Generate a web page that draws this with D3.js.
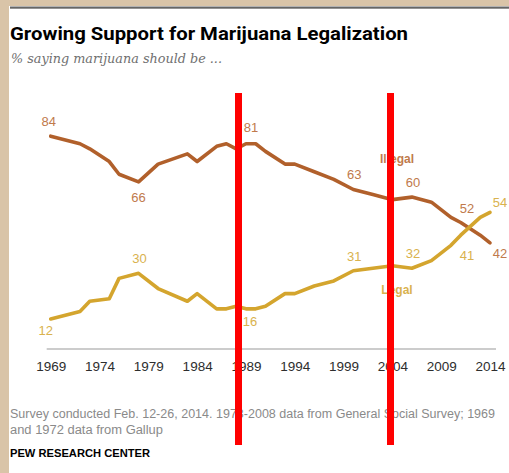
<!DOCTYPE html>
<html>
<head>
<meta charset="utf-8">
<script src="https://cdn.jsdelivr.net/npm/d3@7"></script>
<style>
  html, body { margin: 0; padding: 0; background: #d9c4a8; }
  svg { display: block; }
</style>
</head>
<body>
<div id="chart"></div>
<script>
// survey years and the two series (% saying marijuana should be ...)
const years   = [1969, 1972, 1973, 1975, 1976, 1978, 1980, 1983, 1984, 1986, 1987, 1988, 1989, 1990, 1991, 1993, 1994, 1996, 1998, 2000, 2002, 2004, 2006, 2008, 2010, 2011, 2013, 2014]
const illegal = [84, 81, 79, 74, 69, 66, 73, 77, 74, 80, 81, 79, 81, 81, 78, 73, 73, 70, 67, 63, 61, 59, 60, 58, 52, 50, 45, 42]
const legal   = [12, 15, 19, 20, 28, 30, 24, 19, 22, 16, 16, 17, 16, 16, 17, 22, 22, 25, 27, 31, 32, 33, 32, 35, 41, 45, 52, 54]

const tickYears = [1969, 1974, 1979, 1984, 1989, 1994, 1999, 2004, 2009, 2014]

// values that get a number printed next to them
const illegalLabels = [1969, 1978, 1989, 2000, 2006, 2010, 2014]
const legalLabels   = [1969, 1978, 1989, 2000, 2006, 2010, 2014]

const W = 509, H = 473
const brown = "#b1602b", brownText = "#c07a4c"
const gold = "#d4a52e", goldText = "#d9b24e"

const svg = d3.select("#chart").append("svg")
    .attr("width", W)
    .attr("height", H)

// white card on the textured backdrop
svg.append("rect")
    .attr("x", 9).attr("y", 6)
    .attr("width", W - 9).attr("height", H - 6)
    .attr("fill", "#fff")

svg.append("rect")
    .attr("x", 10).attr("y", 6.5)
    .attr("width", W - 10).attr("height", 2.2)
    .attr("fill", "#666")

// titles
svg.append("text")
    .attr("x", 10).attr("y", 40)
    .attr("font-family", "'Liberation Sans Narrow', 'Roboto', 'Liberation Sans', sans-serif")
    .attr("font-weight", "bold")
    .attr("font-size", 19)
    .attr("textLength", 398)
    .attr("lengthAdjust", "spacingAndGlyphs")
    .attr("fill", "#000")
    .text("Growing Support for Marijuana Legalization")

svg.append("text")
    .attr("x", 11).attr("y", 63)
    .attr("font-family", "'DejaVu Serif', 'Liberation Serif', serif")
    .attr("font-style", "italic")
    .attr("font-size", 12.5)
    .attr("textLength", 211)
    .attr("lengthAdjust", "spacingAndGlyphs")
    .attr("fill", "#707070")
    .text("% saying marijuana should be ...")

// scales
const x = d3.scaleLinear().domain([1969, 2014]).range([50.7, 490])
const y = d3.scaleLinear().domain([0, 100]).range([349.5, 95.5])

const g = svg.append("g")

// x axis, no tick marks
const xAxis = g.append("g")
    .attr("transform", "translate(0,349)")
    .call(d3.axisBottom(x).tickValues(tickYears).tickFormat(d3.format("d")).tickSize(0).tickPadding(12))
xAxis.select(".domain").remove()
xAxis.selectAll("text")
    .attr("font-family", "'Liberation Sans', 'Roboto', sans-serif")
    .attr("font-size", 13.5)
    .attr("fill", "#2e2e2e")
g.append("line")
    .attr("x1", x(1969) - 4).attr("x2", x(2014) + 6)
    .attr("y1", 349).attr("y2", 349)
    .attr("stroke", "#999").attr("stroke-width", 1)

const line = d3.line()
    .x(d => x(d[0]))
    .y(d => y(d[1]))

g.append("path")
    .datum(years.map((yr, i) => [yr, illegal[i]]))
    .attr("fill", "none")
    .attr("stroke", brown)
    .attr("stroke-width", 3.6)
    .attr("stroke-linejoin", "round")
    .attr("stroke-linecap", "round")
    .attr("d", line)

g.append("path")
    .datum(years.map((yr, i) => [yr, legal[i]]))
    .attr("fill", "none")
    .attr("stroke", gold)
    .attr("stroke-width", 3.6)
    .attr("stroke-linejoin", "round")
    .attr("stroke-linecap", "round")
    .attr("d", line)

// value labels
const labelFont = "'Liberation Sans', 'Roboto', sans-serif"
function addLabels(list, series, color, place) {
    list.forEach(yr => {
        const v = series[years.indexOf(yr)]
        const p = place(yr, v)
        g.append("text")
            .attr("x", x(yr) + p[0])
            .attr("y", y(v) + p[1])
            .attr("text-anchor", "middle")
            .attr("font-family", labelFont)
            .attr("font-size", 13)
            .attr("fill", color)
            .text(v)
    })
}
addLabels(illegalLabels, illegal, brownText, (yr, v) => {
    if (yr === 1969) return [-2, -10]
    if (yr === 1978) return [0, 20]
    if (yr === 1989) return [5, -12]
    if (yr === 2010) return [16, -4]
    if (yr === 2014) return [10, 15]
    return [1, -10]
})
addLabels(legalLabels, legal, goldText, (yr, v) => {
    if (yr === 1969) return [-5, 16]
    if (yr === 1989) return [4, 17]
    if (yr === 2010) return [16, 15]
    if (yr === 2014) return [10, -5]
    return [1, -10]
})

// series names
g.append("text")
    .attr("x", 397).attr("y", 163)
    .attr("text-anchor", "middle")
    .attr("font-family", labelFont)
    .attr("font-weight", "bold")
    .attr("font-size", 12)
    .attr("fill", brownText)
    .text("Illegal")
g.append("text")
    .attr("x", 397).attr("y", 294)
    .attr("text-anchor", "middle")
    .attr("font-family", labelFont)
    .attr("font-weight", "bold")
    .attr("font-size", 12)
    .attr("fill", goldText)
    .text("Legal")

// footer
const note = svg.append("text")
    .attr("font-family", "'Liberation Sans', 'Roboto', sans-serif")
    .attr("font-size", 12.5)
    .attr("fill", "#8a8a8a")
note.append("tspan").attr("x", 10).attr("y", 418)
    .attr("textLength", 485).attr("lengthAdjust", "spacingAndGlyphs")
    .text("Survey conducted Feb. 12-26, 2014. 1973-2008  data from General Social Survey; 1969")
note.append("tspan").attr("x", 10).attr("y", 434)
    .attr("textLength", 153).attr("lengthAdjust", "spacingAndGlyphs")
    .text("and 1972  data from Gallup")

svg.append("text")
    .attr("x", 10).attr("y", 457)
    .attr("font-family", "'Liberation Sans', 'Roboto', sans-serif")
    .attr("font-weight", "bold")
    .attr("font-size", 11)
    .attr("textLength", 140)
    .attr("lengthAdjust", "spacingAndGlyphs")
    .attr("fill", "#000")
    .text("PEW RESEARCH CENTER")

// red marker bars drawn over the picture
svg.append("rect").attr("x", 235).attr("y", 93).attr("width", 7).attr("height", 352).attr("fill", "#ff0000")
svg.append("rect").attr("x", 387).attr("y", 93).attr("width", 7).attr("height", 352).attr("fill", "#ff0000")
</script>
</body>
</html>
